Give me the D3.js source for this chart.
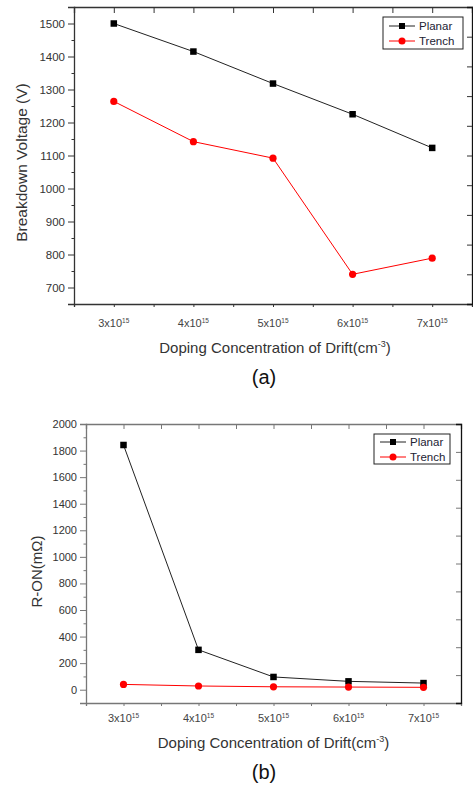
<!DOCTYPE html>
<html lang="en">
<head>
    <meta charset="UTF-8">
    <title>Breakdown voltage and R-ON vs doping</title>
    <script src="https://cdn.jsdelivr.net/npm/d3@7"></script>
    <style>
        body { margin: 0; background: #fff; }
        svg, svg text { font-family: "Liberation Sans", Arial, sans-serif; }
    </style>
</head>
<body>
<svg width="473" height="787"></svg>
<script>
// doping concentration, in units of 10^15 cm^-3
var doping = [3, 4, 5, 6, 7];
var seriesNames = ["Planar", "Trench"];

// (a) breakdown voltage (V)
var bvPlanar = [1500, 1415, 1318, 1225, 1123];
var bvTrench = [1264, 1142, 1092, 740, 789];
var bvTicks = [700, 800, 900, 1000, 1100, 1200, 1300, 1400, 1500];

// (b) R-ON (mOhm)
var ronPlanar = [1842, 300, 96, 63, 50];
var ronTrench = [40, 28, 22, 20, 18];
var ronTicks = [0, 200, 400, 600, 800, 1000, 1200, 1400, 1600, 1800, 2000];

var svg = d3.select("svg");

function drawPanel(p) {
    var x = d3.scaleLinear().domain([2.5, 7.5]).range([p.left, p.right]);
    var y = d3.scaleLinear().domain(p.yDomain).range([p.bottom, p.top]);
    var yr = d3.scaleLinear().domain([0, 10]).range([p.bottom, p.top]);
    var halfSteps = d3.range(2.5, 7.51, 0.5);
    var g = svg.append("g");

    // bottom axis
    var bx = g.append("g").attr("transform", "translate(0," + p.bottom + ")")
        .call(d3.axisBottom(x).tickValues(halfSteps).tickSize(3).tickFormat(""));
    // top axis, ticks inward
    var tx = g.append("g").attr("transform", "translate(0," + p.top + ")")
        .call(d3.axisTop(x).tickValues(halfSteps.slice(1, -1)).tickSize(-p.topTick).tickFormat(""));
    // left axis, major + minor
    var minor = d3.range(p.yDomain[0], p.yDomain[1] + 1, p.minorStep)
        .filter(function(v) { return p.yTicks.indexOf(v) < 0; });
    g.append("g").attr("transform", "translate(" + p.left + ",0)")
        .call(d3.axisLeft(y).tickValues(minor).tickSize(2.5).tickFormat(""));
    var ly = g.append("g").attr("transform", "translate(" + p.left + ",0)")
        .call(d3.axisLeft(y).tickValues(p.yTicks).tickSize(6).tickPadding(3).tickFormat(d3.format("d")));
    ly.selectAll("text").attr("font-size", p.yFont).attr("fill", "#333")
        .attr("font-family", "Liberation Sans, Arial, sans-serif");
    // right axis, no labels
    var ry = g.append("g").attr("transform", "translate(" + p.right + ",0)")
        .call(d3.axisRight(yr).tickValues(d3.range(1, 10)).tickSize(-5).tickFormat(""));

    [bx, tx, ly, ry].forEach(function(a) {
        a.select(".domain").attr("stroke", p.axisColor).attr("stroke-width", 1.3);
    });
    g.selectAll(".tick line").attr("stroke", p.axisColor);
    ry.select(".domain").attr("stroke", "#111");

    // x tick labels with superscript
    doping.forEach(function(d) {
        var t = g.append("text")
            .attr("x", x(d))
            .attr("y", p.bottom + p.xLabelOff)
            .attr("text-anchor", "middle")
            .attr("font-size", 11)
            .attr("fill", "#444");
        t.append("tspan").text(d + "x10");
        t.append("tspan").attr("font-size", 6.5).attr("dy", -4.5).text("15");
    });

    // axis titles
    var xt = g.append("text")
        .attr("x", (p.left + p.right) / 2 + p.xTitleShift)
        .attr("y", p.bottom + p.xTitleOff)
        .attr("text-anchor", "middle")
        .attr("font-size", 15)
        .attr("fill", "#333");
    xt.append("tspan").text("Doping Concentration of Drift(cm");
    xt.append("tspan").attr("font-size", 9).attr("dy", -6).text("-3");
    xt.append("tspan").attr("dy", 6).text(")");

    g.append("text")
        .attr("transform", "translate(" + p.yTitleX + "," + ((p.top + p.bottom) / 2 + p.yTitleShift) + ") rotate(-90)")
        .attr("text-anchor", "middle")
        .attr("font-size", p.yTitleFont)
        .attr("fill", "#333")
        .text(p.yTitle);

    g.append("text")
        .attr("x", 264)
        .attr("y", p.bottom + p.capOff)
        .attr("text-anchor", "middle")
        .attr("font-size", 20)
        .attr("fill", "#111")
        .text(p.caption);

    // series
    var line = d3.line().x(function(d, i) { return x(doping[i]); }).y(function(d) { return y(d); });
    g.append("path").datum(p.planar).attr("d", line)
        .attr("fill", "none").attr("stroke", "#222").attr("stroke-width", 1);
    g.append("path").datum(p.trench).attr("d", line)
        .attr("fill", "none").attr("stroke", "red").attr("stroke-width", 1);
    g.selectAll(".sq").data(p.planar).enter().append("rect")
        .attr("x", function(d, i) { return x(doping[i]) - 3.25; })
        .attr("y", function(d) { return y(d) - 3.25; })
        .attr("width", 6.5).attr("height", 6.5).attr("fill", "#000");
    g.selectAll(".ci").data(p.trench).enter().append("circle")
        .attr("cx", function(d, i) { return x(doping[i]); })
        .attr("cy", function(d) { return y(d); })
        .attr("r", 3.6).attr("fill", "red");

    // legend
    var L = p.legend;
    g.append("rect").attr("x", L.x).attr("y", L.y).attr("width", L.w).attr("height", L.h)
        .attr("fill", "#fff").attr("stroke", "#222").attr("stroke-width", 1);
    seriesNames.forEach(function(name, i) {
        var ry2 = L.y + L.row0 + i * L.rowGap;
        var col = i === 0 ? "#222" : "red";
        g.append("line").attr("x1", L.x + 6).attr("x2", L.x + 6 + L.lineLen)
            .attr("y1", ry2).attr("y2", ry2).attr("stroke", col);
        if (i === 0) {
            g.append("rect").attr("x", L.x + 6 + L.lineLen / 2 - 3).attr("y", ry2 - 3)
                .attr("width", 6).attr("height", 6).attr("fill", "#000");
        } else {
            g.append("circle").attr("cx", L.x + 6 + L.lineLen / 2).attr("cy", ry2)
                .attr("r", 3.5).attr("fill", "red");
        }
        g.append("text").attr("x", L.x + 10 + L.lineLen).attr("y", ry2 + 4)
            .attr("font-size", 11.5).attr("fill", "#223").text(name);
    });
}

drawPanel({
    left: 74, right: 472, top: 7, bottom: 304,
    yDomain: [650, 1550], yTicks: bvTicks, minorStep: 50, yFont: 11.5,
    planar: bvPlanar, trench: bvTrench,
    axisColor: "#333", topTick: 6,
    xLabelOff: 23, xTitleOff: 49, xTitleShift: 2, capOff: 80,
    yTitleX: 27, yTitleShift: 7, yTitleFont: 15.5,
    yTitle: "Breakdown Voltage (V)", caption: "(a)",
    legend: { x: 383, y: 17, w: 80, h: 32, row0: 9, rowGap: 15, lineLen: 26 }
});

drawPanel({
    left: 86, right: 461, top: 424, bottom: 703,
    yDomain: [-100, 2000], yTicks: ronTicks, minorStep: 100, yFont: 11,
    planar: ronPlanar, trench: ronTrench,
    axisColor: "#777", topTick: 5,
    xLabelOff: 19, xTitleOff: 45, xTitleShift: 0, capOff: 76,
    yTitleX: 42, yTitleShift: 8, yTitleFont: 15,
    yTitle: "R-ON(mΩ)", caption: "(b)",
    legend: { x: 374, y: 434, w: 76, h: 30, row0: 8, rowGap: 15, lineLen: 26 }
});
</script>
</body>
</html>
